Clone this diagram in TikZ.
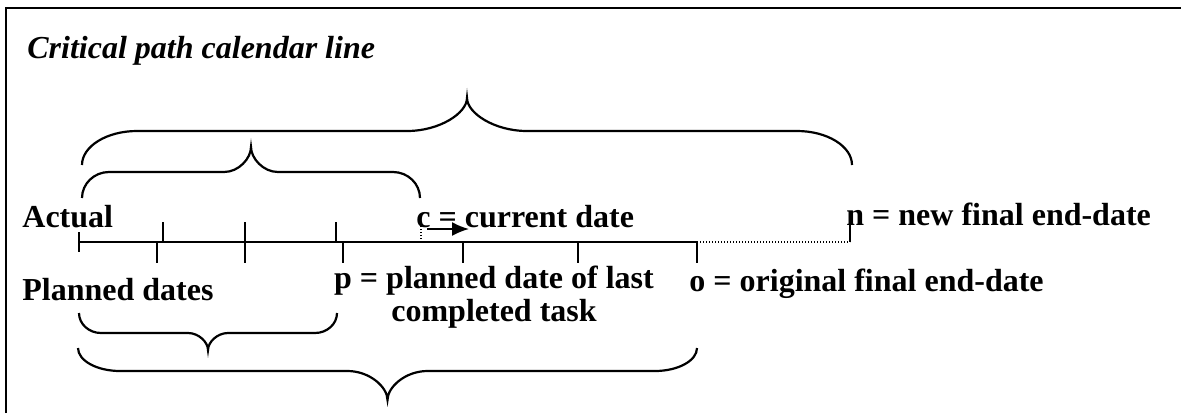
\documentclass[tikz,border=0pt]{standalone}
\usepackage{fontspec}
\setmainfont{Liberation Serif}
\usetikzlibrary{arrows.meta}
\tikzset{
  brc/.style={line width=1.1pt},
  tl/.style={line width=0.75pt},
  tick/.style={line width=0.75pt},
  dotln/.style={line width=0.6pt, dash pattern=on 0.6pt off 0.9pt},
  txt/.style={font=\fontsize{16}{16.5}\selectfont\bfseries, inner sep=0pt},
  frame/.style={line width=1.2pt}
}
% brace: xL xR endY horizY tipY cornerW tipW
\newcommand\mybrace[7]{%
  \draw[brc] (#1,#3) .. controls (#1,{#4+0.45*(#3-#4)}) and ({#1+0.45*#6},#4) .. ({#1+#6},#4)
   -- ({(#1+#2)/2-#7},#4) .. controls ({(#1+#2)/2-0.45*#7},#4) and ({(#1+#2)/2},{#5+0.45*(#4-#5)}) .. ({(#1+#2)/2},#5)
   .. controls ({(#1+#2)/2},{#5+0.45*(#4-#5)}) and ({(#1+#2)/2+0.45*#7},#4) .. ({(#1+#2)/2+#7},#4)
   -- ({#2-#6},#4) .. controls ({#2-0.45*#6},#4) and (#2,{#4+0.45*(#3-#4)}) .. (#2,#3);}
\begin{document}
\begin{tikzpicture}[x=0.5pt,y=-0.5pt]
\useasboundingbox (0,0) rectangle (1181,413);
% frame (left and top edges visible)
\draw[frame] (6,413) -- (6,8) -- (1181,8);
% title
\node[txt, font=\fontsize{16}{16.5}\selectfont\bfseries\itshape, anchor=base west] (title) at (27,58) {Critical path calendar line};
% braces above
\mybrace{82}{852}{165}{131}{98}{55}{60}
\mybrace{82}{420}{198}{172}{147}{27}{27}
% braces below
\mybrace{79}{337}{313}{333}{350}{22}{20}
\mybrace{78}{697}{348}{371}{400}{42}{40}
% timeline
\coordinate (s) at (79,242);
\coordinate (o) at (697,242);
\coordinate (n) at (850,242);
\draw[tl] (s) -- (o);
\draw[dotln] (o) -- (n);
\draw[tick] (79,232) -- (79,252);
\foreach \x in {163,336,850} \draw[tick] (\x,222) -- (\x,242);
\draw[tick] (245,222) -- (245,263);
\foreach \x in {157,343,463,578,697} \draw[tick] (\x,242) -- (\x,263);
% current date marker and arrow
\coordinate (c) at (421,242);
\coordinate (ctop) at (421,225);
\draw[dotln] (c) -- (ctop);
\coordinate (a1) at (427,229);
\coordinate (a2) at (469,229);
\draw[line width=0.9pt, -{Latex[length=8.5pt,width=7pt]}] (a1) -- (a2);
% labels
\node[txt, anchor=base west] (actual) at (22,227) {Actual};
\node[txt, anchor=base west] (cur) at (416,227) {c = current date};
\node[txt, anchor=base west] (new) at (846,225) {n = new final end-date};
\node[txt, anchor=base west] (planned) at (22,300) {Planned dates};
\node[txt, anchor=north, align=center] (plast) at (494,266) {p = planned date of last\\completed task};
\node[txt, anchor=base west] (orig) at (689,291) {o = original final end-date};
\end{tikzpicture}
\end{document}
